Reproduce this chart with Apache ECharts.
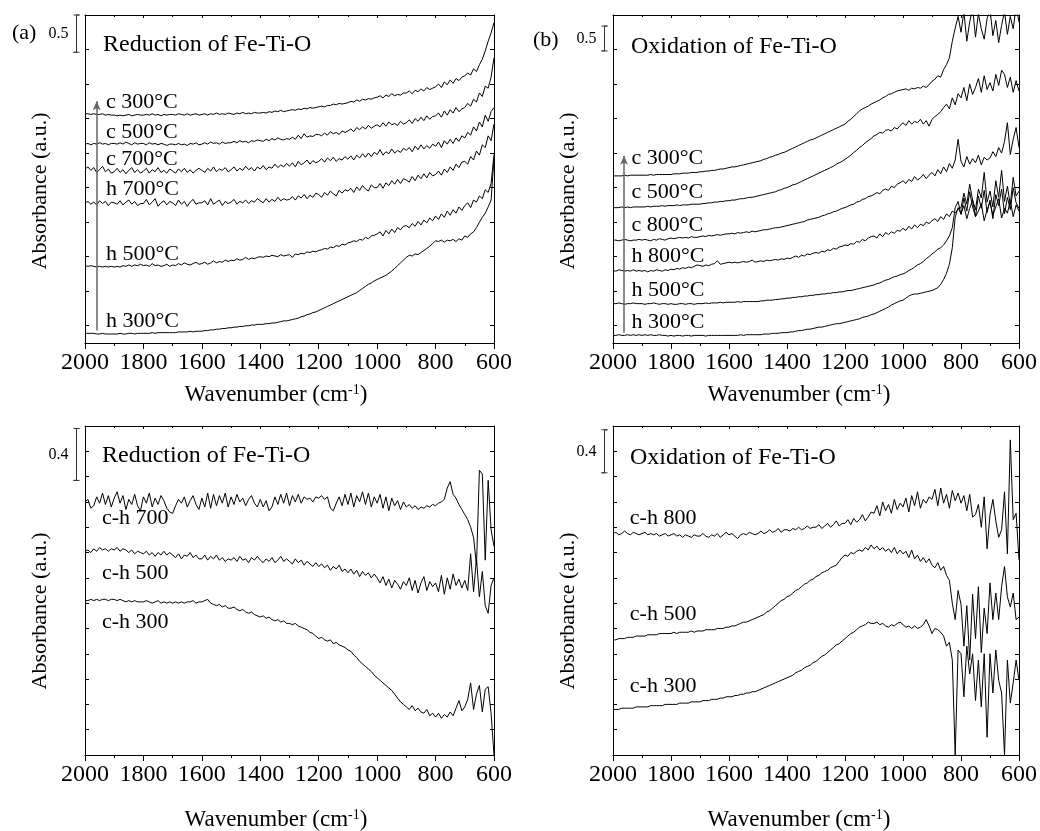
<!DOCTYPE html>
<html>
<head>
<meta charset="utf-8">
<script src="https://cdn.jsdelivr.net/npm/echarts@6/dist/echarts.min.js"></script>
<style>
  html, body { margin: 0; background: #fff; }
  #chart { width: 1040px; height: 831px; }
</style>
</head>
<body>
<div id="chart"></div>
<script>
// shared wavenumber grid (cm-1), 2000 -> 600
const wavenumber = [
  2000,1990,1980,1970,1960,1950,1940,1930,1920,1910,
  1900,1890,1880,1870,1860,1850,1840,1830,1820,1810,
  1800,1790,1780,1770,1760,1750,1740,1730,1720,1710,
  1700,1690,1680,1670,1660,1650,1640,1630,1620,1610,
  1600,1590,1580,1570,1560,1550,1540,1530,1520,1510,
  1500,1490,1480,1470,1460,1450,1440,1430,1420,1410,
  1400,1390,1380,1370,1360,1350,1340,1330,1320,1310,
  1300,1290,1280,1270,1260,1250,1240,1230,1220,1210,
  1200,1190,1180,1170,1160,1150,1140,1130,1120,1110,
  1100,1090,1080,1070,1060,1050,1040,1030,1020,1010,
  1000,990,980,970,960,950,940,930,920,910,
  900,890,880,870,860,850,840,830,820,810,
  800,790,780,770,760,750,740,730,720,710,
  700,690,680,670,660,650,640,630,620,610,
  600
]

// (a) reduction of Fe-Ti-O, stacked spectra
const redC300 = [
  3.07,3.07,3.06,3.07,3.06,3.06,3.07,3.05,3.06,3.05,
  3.05,3.04,3.05,3.04,3.05,3.06,3.04,3.05,3.06,3.05,
  3.05,3.06,3.05,3.07,3.05,3.06,3.04,3.06,3.05,3.06,
  3.06,3.05,3.07,3.06,3.05,3.07,3.05,3.06,3.07,3.05,
  3.06,3.07,3.05,3.07,3.06,3.08,3.06,3.07,3.06,3.08,
  3.07,3.06,3.08,3.07,3.09,3.07,3.08,3.07,3.09,3.08,
  3.08,3.09,3.08,3.10,3.09,3.11,3.10,3.12,3.10,3.11,
  3.12,3.13,3.12,3.14,3.13,3.15,3.14,3.16,3.15,3.16,
  3.17,3.18,3.17,3.19,3.19,3.21,3.20,3.22,3.21,3.22,
  3.23,3.25,3.24,3.27,3.25,3.28,3.27,3.29,3.28,3.30,
  3.31,3.33,3.30,3.34,3.32,3.36,3.33,3.35,3.34,3.37,
  3.37,3.40,3.36,3.41,3.39,3.43,3.40,3.45,3.42,3.44,
  3.46,3.50,3.45,3.53,3.49,3.56,3.51,3.58,3.55,3.60,
  3.62,3.66,3.63,3.72,3.68,3.78,3.86,3.98,4.12,4.24,
  4.39
]
const redC500 = [
  2.63,2.64,2.62,2.64,2.63,2.65,2.63,2.64,2.62,2.64,
  2.64,2.63,2.65,2.63,2.66,2.64,2.62,2.65,2.63,2.64,
  2.64,2.62,2.65,2.63,2.64,2.62,2.64,2.63,2.61,2.63,
  2.63,2.62,2.64,2.62,2.63,2.61,2.64,2.63,2.65,2.62,
  2.63,2.65,2.63,2.66,2.64,2.65,2.63,2.66,2.64,2.65,
  2.65,2.67,2.65,2.68,2.66,2.67,2.65,2.68,2.67,2.69,
  2.68,2.67,2.70,2.68,2.71,2.69,2.72,2.70,2.69,2.71,
  2.70,2.73,2.70,2.76,2.71,2.78,2.73,2.75,2.74,2.77,
  2.77,2.75,2.79,2.76,2.81,2.78,2.80,2.77,2.82,2.80,
  2.82,2.85,2.81,2.87,2.84,2.88,2.85,2.90,2.86,2.89,
  2.91,2.88,2.94,2.89,2.95,2.91,2.93,2.90,2.96,2.92,
  2.94,2.98,2.93,3.00,2.96,3.02,2.97,3.04,2.99,3.03,
  3.04,3.08,3.02,3.11,3.05,3.13,3.08,3.16,3.10,3.14,
  3.16,3.22,3.18,3.28,3.24,3.37,3.32,3.47,3.44,3.60,
  3.88
]
const redC700 = [
  2.27,2.30,2.25,2.29,2.22,2.26,2.31,2.23,2.27,2.21,
  2.23,2.28,2.22,2.26,2.20,2.25,2.29,2.22,2.26,2.21,
  2.24,2.28,2.21,2.26,2.23,2.29,2.22,2.25,2.21,2.27,
  2.24,2.21,2.27,2.23,2.28,2.22,2.26,2.21,2.25,2.28,
  2.25,2.22,2.28,2.24,2.30,2.23,2.27,2.25,2.29,2.23,
  2.26,2.30,2.24,2.28,2.25,2.31,2.26,2.29,2.24,2.30,
  2.27,2.32,2.26,2.30,2.28,2.34,2.29,2.33,2.30,2.35,
  2.31,2.36,2.30,2.38,2.33,2.36,2.40,2.34,2.39,2.36,
  2.38,2.42,2.37,2.43,2.39,2.44,2.38,2.42,2.40,2.45,
  2.41,2.46,2.40,2.47,2.43,2.49,2.44,2.50,2.45,2.51,
  2.48,2.55,2.47,2.52,2.49,2.56,2.50,2.54,2.51,2.57,
  2.54,2.58,2.52,2.60,2.55,2.62,2.56,2.61,2.57,2.63,
  2.60,2.66,2.58,2.68,2.63,2.70,2.64,2.72,2.67,2.75,
  2.72,2.80,2.76,2.88,2.82,2.95,2.88,3.05,2.96,3.10,
  3.16
]
const redH700 = [
  1.78,1.80,1.76,1.79,1.75,1.81,1.77,1.80,1.74,1.79,
  1.78,1.76,1.81,1.75,1.79,1.82,1.76,1.80,1.74,1.77,
  1.77,1.83,1.75,1.79,1.84,1.73,1.78,1.81,1.75,1.80,
  1.78,1.74,1.82,1.76,1.80,1.73,1.79,1.83,1.76,1.78,
  1.78,1.81,1.75,1.84,1.76,1.79,1.82,1.74,1.80,1.77,
  1.79,1.83,1.76,1.80,1.78,1.82,1.77,1.81,1.79,1.84,
  1.81,1.78,1.84,1.79,1.83,1.80,1.86,1.81,1.84,1.82,
  1.83,1.87,1.82,1.88,1.85,1.90,1.84,1.89,1.86,1.92,
  1.90,1.86,1.93,1.89,1.95,1.91,1.88,1.96,1.92,1.97,
  1.95,1.99,1.93,2.01,1.96,2.03,1.98,1.95,2.04,2.00,
  2.00,2.06,1.99,2.07,2.03,2.10,2.05,2.12,2.06,2.13,
  2.11,2.08,2.16,2.10,2.18,2.13,2.20,2.14,2.22,2.17,
  2.19,2.24,2.18,2.27,2.22,2.30,2.25,2.34,2.29,2.37,
  2.38,2.34,2.45,2.40,2.53,2.47,2.62,2.58,2.75,2.68,
  2.92
]
const redH500 = [
  0.87,0.86,0.87,0.86,0.85,0.86,0.85,0.86,0.85,0.86,
  0.85,0.86,0.85,0.87,0.86,0.88,0.86,0.88,0.87,0.89,
  0.87,0.88,0.86,0.90,0.87,0.88,0.86,0.87,0.89,0.86,
  0.88,0.87,0.90,0.88,0.91,0.89,0.88,0.90,0.92,0.89,
  0.90,0.92,0.89,0.91,0.94,0.91,0.93,0.92,0.95,0.93,
  0.95,0.94,0.97,0.95,0.96,0.99,0.96,0.98,0.97,0.99,
  1.00,0.99,1.01,1.00,1.02,1.01,1.00,1.03,1.01,1.02,
  1.03,0.99,1.04,1.03,1.05,1.04,1.07,1.06,1.08,1.07,
  1.09,1.10,1.12,1.11,1.14,1.13,1.16,1.15,1.18,1.17,
  1.20,1.21,1.23,1.22,1.25,1.24,1.28,1.26,1.30,1.31,
  1.33,1.36,1.30,1.38,1.33,1.40,1.35,1.42,1.39,1.44,
  1.45,1.42,1.48,1.44,1.51,1.46,1.53,1.49,1.56,1.52,
  1.59,1.54,1.62,1.57,1.66,1.60,1.68,1.63,1.72,1.67,
  1.74,1.78,1.71,1.82,1.79,1.88,1.84,1.97,1.93,2.06,
  2.48
]
const redH300 = [
  -0.11,-0.11,-0.11,-0.11,-0.12,-0.12,-0.11,-0.12,-0.12,-0.12,
  -0.12,-0.12,-0.11,-0.12,-0.12,-0.11,-0.11,-0.12,-0.11,-0.11,
  -0.11,-0.11,-0.11,-0.10,-0.11,-0.10,-0.10,-0.10,-0.10,-0.10,
  -0.10,-0.10,-0.09,-0.09,-0.09,-0.09,-0.08,-0.09,-0.08,-0.08,
  -0.08,-0.07,-0.07,-0.06,-0.06,-0.05,-0.05,-0.04,-0.04,-0.03,
  -0.03,-0.02,-0.02,-0.01,-0.01,0.00,0.00,0.01,0.01,0.02,
  0.02,0.02,0.03,0.03,0.04,0.04,0.05,0.06,0.07,0.07,
  0.08,0.09,0.10,0.11,0.13,0.14,0.16,0.17,0.19,0.20,
  0.22,0.24,0.26,0.28,0.30,0.32,0.34,0.36,0.38,0.40,
  0.42,0.44,0.46,0.48,0.51,0.54,0.57,0.60,0.62,0.65,
  0.67,0.69,0.71,0.73,0.76,0.79,0.83,0.87,0.91,0.95,
  0.99,1.02,1.01,1.04,1.03,1.06,1.09,1.12,1.15,1.19,
  1.23,1.22,1.24,1.21,1.24,1.23,1.25,1.22,1.26,1.24,
  1.30,1.28,1.33,1.36,1.42,1.50,1.57,1.63,1.72,1.82,
  2.43
]

// (b) oxidation of Fe-Ti-O, stacked spectra
const oxC300 = [
  2.17,2.17,2.17,2.17,2.18,2.17,2.18,2.18,2.18,2.18,
  2.18,2.18,2.18,2.19,2.18,2.19,2.19,2.19,2.19,2.19,
  2.19,2.20,2.20,2.20,2.21,2.21,2.21,2.22,2.22,2.22,
  2.23,2.23,2.24,2.24,2.25,2.25,2.26,2.27,2.27,2.28,
  2.29,2.30,2.30,2.31,2.32,2.33,2.34,2.35,2.36,2.37,
  2.38,2.39,2.41,2.42,2.44,2.45,2.47,2.48,2.50,2.51,
  2.53,2.55,2.57,2.59,2.61,2.63,2.65,2.67,2.69,2.70,
  2.72,2.74,2.76,2.78,2.80,2.82,2.84,2.86,2.88,2.90,
  2.92,2.96,2.99,3.03,3.07,3.11,3.14,3.16,3.18,3.21,
  3.23,3.25,3.27,3.30,3.32,3.35,3.36,3.38,3.40,3.41,
  3.42,3.43,3.41,3.44,3.43,3.45,3.44,3.47,3.45,3.49,
  3.54,3.57,3.62,3.60,3.71,3.78,3.88,4.12,4.31,4.48,
  4.25,4.55,4.12,4.40,4.60,4.18,4.52,4.30,4.15,4.45,
  4.58,4.20,4.42,4.10,4.35,4.55,4.22,4.48,4.30,4.62,
  4.40
]
const oxC500 = [
  1.71,1.71,1.71,1.72,1.71,1.72,1.71,1.72,1.72,1.72,
  1.72,1.72,1.73,1.72,1.73,1.73,1.73,1.74,1.73,1.74,
  1.74,1.74,1.75,1.74,1.75,1.75,1.75,1.76,1.76,1.76,
  1.76,1.77,1.77,1.78,1.78,1.79,1.79,1.80,1.80,1.81,
  1.81,1.82,1.82,1.83,1.84,1.84,1.85,1.86,1.86,1.87,
  1.88,1.89,1.90,1.91,1.92,1.93,1.94,1.96,1.97,1.99,
  2.00,2.02,2.04,2.05,2.07,2.09,2.11,2.13,2.15,2.17,
  2.19,2.21,2.23,2.25,2.27,2.29,2.31,2.34,2.36,2.38,
  2.41,2.44,2.47,2.51,2.54,2.58,2.61,2.65,2.68,2.71,
  2.75,2.77,2.80,2.79,2.83,2.84,2.82,2.87,2.85,2.90,
  2.94,2.90,2.97,2.92,2.96,2.94,2.99,2.92,2.97,2.89,
  2.99,3.03,3.06,3.10,3.16,3.21,3.14,3.30,3.20,3.36,
  3.30,3.45,3.26,3.50,3.35,3.45,3.58,3.38,3.62,3.42,
  3.52,3.40,3.64,3.48,3.70,3.64,3.45,3.60,3.38,3.55,
  3.40
]
const oxC800 = [
  1.24,1.24,1.23,1.24,1.25,1.24,1.23,1.24,1.24,1.25,
  1.24,1.25,1.24,1.23,1.25,1.24,1.26,1.25,1.24,1.26,
  1.27,1.26,1.27,1.28,1.27,1.28,1.27,1.29,1.28,1.28,
  1.29,1.30,1.29,1.31,1.30,1.31,1.32,1.31,1.32,1.33,
  1.33,1.34,1.33,1.35,1.34,1.35,1.36,1.35,1.37,1.36,
  1.37,1.38,1.39,1.39,1.40,1.41,1.42,1.42,1.43,1.44,
  1.45,1.46,1.47,1.48,1.49,1.50,1.51,1.53,1.54,1.55,
  1.56,1.57,1.59,1.60,1.62,1.63,1.65,1.66,1.68,1.70,
  1.71,1.73,1.75,1.76,1.79,1.80,1.83,1.84,1.87,1.88,
  1.90,1.93,1.91,1.96,1.98,1.96,2.02,2.00,2.05,2.07,
  2.10,2.06,2.12,2.09,2.16,2.11,2.14,2.19,2.13,2.18,
  2.22,2.17,2.26,2.20,2.30,2.23,2.35,2.28,2.40,2.70,
  2.38,2.30,2.45,2.34,2.42,2.36,2.47,2.33,2.44,2.40,
  2.43,2.52,2.45,2.58,2.50,2.67,2.94,2.48,2.70,2.87,
  2.58
]
const oxH800 = [
  0.80,0.79,0.81,0.80,0.79,0.80,0.79,0.81,0.79,0.80,
  0.79,0.80,0.78,0.80,0.79,0.81,0.80,0.79,0.81,0.80,
  0.82,0.81,0.83,0.82,0.84,0.83,0.85,0.84,0.86,0.88,
  0.87,0.86,0.88,0.87,0.89,0.90,0.94,0.89,0.90,0.91,
  0.92,0.91,0.92,0.91,0.92,0.93,0.92,0.93,0.95,0.92,
  0.93,0.94,0.93,0.95,0.94,0.95,0.96,0.95,0.97,0.96,
  0.98,0.97,0.99,1.01,0.99,1.02,1.01,1.04,1.03,1.05,
  1.06,1.05,1.08,1.07,1.10,1.09,1.12,1.11,1.14,1.15,
  1.17,1.16,1.19,1.18,1.22,1.21,1.25,1.23,1.27,1.29,
  1.30,1.27,1.33,1.29,1.35,1.32,1.36,1.34,1.38,1.37,
  1.41,1.38,1.44,1.40,1.46,1.42,1.47,1.45,1.50,1.48,
  1.52,1.55,1.51,1.58,1.54,1.62,1.58,1.66,1.63,1.69,
  1.71,1.92,1.76,2.05,1.82,1.68,1.98,1.85,2.22,1.79,
  1.95,1.72,2.10,1.86,2.25,1.80,2.02,1.75,2.15,1.88,
  1.95
]
const oxH500 = [
  0.32,0.32,0.33,0.32,0.31,0.32,0.32,0.33,0.32,0.32,
  0.32,0.31,0.32,0.32,0.33,0.32,0.31,0.32,0.32,0.31,
  0.32,0.31,0.31,0.32,0.32,0.31,0.32,0.32,0.31,0.32,
  0.32,0.32,0.33,0.32,0.33,0.33,0.33,0.34,0.33,0.34,
  0.34,0.34,0.34,0.35,0.34,0.35,0.35,0.35,0.35,0.35,
  0.35,0.36,0.36,0.37,0.37,0.37,0.38,0.38,0.39,0.39,
  0.40,0.40,0.41,0.41,0.42,0.42,0.43,0.43,0.44,0.44,
  0.45,0.45,0.46,0.46,0.47,0.47,0.48,0.48,0.49,0.49,
  0.50,0.51,0.51,0.52,0.53,0.54,0.55,0.56,0.57,0.58,
  0.59,0.61,0.62,0.64,0.66,0.67,0.69,0.71,0.72,0.74,
  0.75,0.77,0.80,0.82,0.85,0.88,0.90,0.93,0.97,1.00,
  1.04,1.07,1.11,1.13,1.17,1.23,1.30,1.42,1.71,1.80,
  1.61,1.85,1.66,1.94,1.72,1.58,1.88,1.70,1.96,1.64,
  1.82,1.55,1.90,1.74,1.98,1.62,1.86,1.68,2.00,1.78,
  1.70
]
const oxH300 = [
  -0.14,-0.14,-0.13,-0.14,-0.14,-0.13,-0.14,-0.13,-0.14,-0.13,
  -0.14,-0.13,-0.14,-0.13,-0.14,-0.14,-0.13,-0.14,-0.14,-0.15,
  -0.14,-0.15,-0.14,-0.14,-0.15,-0.14,-0.14,-0.15,-0.14,-0.14,
  -0.14,-0.14,-0.15,-0.14,-0.14,-0.14,-0.14,-0.14,-0.14,-0.14,
  -0.14,-0.14,-0.14,-0.14,-0.13,-0.14,-0.13,-0.13,-0.13,-0.13,
  -0.13,-0.13,-0.12,-0.12,-0.12,-0.11,-0.11,-0.11,-0.10,-0.10,
  -0.10,-0.09,-0.09,-0.08,-0.07,-0.07,-0.06,-0.05,-0.05,-0.04,
  -0.03,-0.02,-0.02,-0.01,0.00,0.01,0.02,0.03,0.03,0.04,
  0.05,0.06,0.07,0.08,0.09,0.10,0.12,0.13,0.14,0.16,
  0.17,0.19,0.21,0.23,0.25,0.27,0.30,0.32,0.34,0.36,
  0.37,0.40,0.43,0.45,0.46,0.46,0.47,0.48,0.49,0.50,
  0.51,0.53,0.55,0.60,0.67,0.76,0.89,1.13,1.57,1.71,
  1.62,1.74,1.55,1.70,1.82,1.58,1.66,1.77,1.52,1.68,
  1.79,1.60,1.72,1.84,1.56,1.70,1.63,1.81,1.58,1.75,
  1.66
]

// (c) reduction, difference spectra (cooling - heating)
const redDiff700 = [
  2.00,2.02,1.95,1.97,2.04,1.99,2.07,1.98,2.05,1.96,
  2.03,2.08,1.99,2.05,1.94,2.02,1.98,2.06,1.97,1.93,
  2.04,1.99,2.07,1.96,2.03,1.98,2.05,2.01,1.95,1.92,
  1.91,1.97,2.02,1.99,2.04,1.96,2.01,2.05,1.98,1.94,
  2.03,1.96,2.07,1.95,2.06,1.97,2.05,1.99,2.07,1.96,
  2.04,1.98,2.06,2.00,2.03,1.97,2.02,2.05,1.99,1.96,
  2.02,1.96,2.01,1.93,1.96,2.04,1.98,2.06,1.99,2.07,
  1.97,2.05,2.00,2.06,1.99,2.04,2.02,2.03,2.00,2.04,
  2.03,2.05,2.02,2.04,1.95,1.93,1.99,2.04,1.97,2.06,
  1.98,2.07,1.96,2.05,2.00,2.08,1.98,2.07,1.96,2.04,
  1.99,2.06,1.95,2.04,1.93,2.03,1.97,2.01,1.94,2.00,
  1.96,1.98,1.95,1.97,1.94,1.96,1.95,1.97,1.96,1.98,
  1.97,1.99,2.00,2.02,2.11,2.16,2.06,2.03,1.98,1.94,
  1.90,1.86,1.80,1.72,1.50,2.25,2.22,1.54,2.17,1.78,
  1.65
]
const redDiff500 = [
  1.61,1.62,1.60,1.63,1.61,1.64,1.62,1.63,1.61,1.63,
  1.62,1.64,1.61,1.63,1.62,1.60,1.62,1.59,1.61,1.60,
  1.59,1.61,1.58,1.60,1.57,1.60,1.58,1.61,1.58,1.60,
  1.58,1.56,1.59,1.55,1.58,1.57,1.60,1.56,1.58,1.55,
  1.55,1.58,1.54,1.57,1.55,1.58,1.54,1.56,1.53,1.55,
  1.54,1.56,1.53,1.57,1.54,1.55,1.52,1.56,1.54,1.57,
  1.54,1.52,1.55,1.53,1.56,1.52,1.54,1.57,1.53,1.55,
  1.53,1.51,1.55,1.52,1.54,1.50,1.53,1.51,1.49,1.52,
  1.49,1.51,1.48,1.50,1.46,1.49,1.47,1.50,1.45,1.47,
  1.44,1.47,1.43,1.46,1.41,1.45,1.42,1.44,1.40,1.43,
  1.40,1.36,1.41,1.34,1.39,1.32,1.38,1.35,1.31,1.37,
  1.34,1.40,1.30,1.38,1.28,1.36,1.41,1.30,1.37,1.33,
  1.36,1.29,1.42,1.27,1.40,1.31,1.43,1.34,1.39,1.32,
  1.38,1.30,1.59,1.29,1.55,1.25,1.45,1.18,1.12,1.34,
  1.40
]
const redDiff300 = [
  1.22,1.22,1.23,1.22,1.23,1.22,1.23,1.23,1.22,1.23,
  1.23,1.22,1.23,1.22,1.21,1.22,1.21,1.22,1.21,1.21,
  1.21,1.22,1.21,1.20,1.21,1.22,1.20,1.21,1.20,1.21,
  1.20,1.21,1.20,1.21,1.20,1.21,1.21,1.22,1.20,1.21,
  1.21,1.22,1.23,1.20,1.19,1.18,1.19,1.17,1.18,1.16,
  1.16,1.17,1.15,1.14,1.15,1.13,1.12,1.13,1.11,1.10,
  1.09,1.10,1.08,1.09,1.07,1.06,1.07,1.05,1.06,1.04,
  1.04,1.03,1.04,1.02,1.01,1.00,0.99,0.97,0.96,0.94,
  0.92,0.93,0.91,0.90,0.91,0.88,0.89,0.87,0.86,0.85,
  0.83,0.82,0.79,0.77,0.74,0.72,0.70,0.68,0.66,0.63,
  0.61,0.59,0.57,0.55,0.53,0.51,0.48,0.45,0.42,0.40,
  0.38,0.36,0.39,0.35,0.37,0.34,0.33,0.36,0.31,0.33,
  0.30,0.33,0.29,0.32,0.30,0.34,0.31,0.37,0.43,0.35,
  0.38,0.44,0.57,0.36,0.48,0.55,0.34,0.52,0.54,0.33,
  0.00
]

// (d) oxidation, difference spectra (cooling - heating)
const oxDiff800 = [
  1.75,1.76,1.74,1.75,1.77,1.75,1.74,1.76,1.75,1.74,
  1.75,1.76,1.74,1.75,1.74,1.75,1.73,1.74,1.75,1.73,
  1.74,1.75,1.73,1.74,1.72,1.74,1.73,1.72,1.74,1.73,
  1.73,1.75,1.73,1.72,1.74,1.73,1.75,1.72,1.74,1.76,
  1.74,1.75,1.73,1.71,1.74,1.75,1.74,1.76,1.75,1.74,
  1.75,1.77,1.75,1.76,1.78,1.76,1.77,1.79,1.76,1.78,
  1.78,1.77,1.79,1.78,1.80,1.78,1.79,1.81,1.79,1.80,
  1.80,1.82,1.79,1.81,1.83,1.80,1.82,1.85,1.81,1.83,
  1.83,1.86,1.82,1.87,1.84,1.86,1.90,1.85,1.88,1.92,
  1.91,1.97,1.89,2.00,1.93,1.98,1.91,2.02,1.94,1.99,
  1.96,2.03,1.92,2.05,1.97,2.08,1.95,2.02,1.99,2.04,
  2.02,2.10,1.97,2.11,1.99,2.06,1.95,2.09,2.01,2.07,
  1.99,2.05,1.93,2.06,1.88,1.90,1.98,1.80,2.04,1.63,
  1.90,2.02,1.85,1.72,1.78,2.08,1.59,2.49,1.86,1.91,
  1.54
]
const oxDiff500 = [
  0.91,0.91,0.92,0.92,0.92,0.93,0.93,0.93,0.94,0.94,
  0.94,0.94,0.95,0.95,0.95,0.95,0.96,0.96,0.96,0.96,
  0.96,0.97,0.96,0.97,0.97,0.97,0.97,0.98,0.97,0.98,
  0.98,0.98,0.99,0.99,0.99,0.99,1.00,1.00,1.00,1.01,
  1.01,1.02,1.02,1.03,1.04,1.05,1.05,1.06,1.07,1.08,
  1.09,1.10,1.11,1.13,1.14,1.16,1.18,1.20,1.22,1.23,
  1.25,1.26,1.28,1.30,1.31,1.33,1.35,1.36,1.38,1.39,
  1.41,1.42,1.44,1.45,1.46,1.48,1.49,1.50,1.53,1.56,
  1.58,1.57,1.60,1.59,1.61,1.62,1.61,1.64,1.62,1.66,
  1.63,1.65,1.62,1.64,1.61,1.63,1.60,1.64,1.59,1.62,
  1.59,1.61,1.56,1.62,1.55,1.58,1.53,1.56,1.52,1.55,
  1.50,1.48,1.52,1.46,1.49,1.42,1.38,1.20,1.07,1.30,
  1.19,0.86,1.18,0.75,1.27,0.92,1.33,0.81,1.16,0.96,
  1.36,1.07,1.28,1.07,1.33,1.49,1.25,1.17,1.28,1.07,
  1.09
]
const oxDiff300 = [
  0.36,0.36,0.36,0.37,0.37,0.37,0.37,0.37,0.38,0.38,
  0.38,0.38,0.38,0.39,0.39,0.39,0.39,0.39,0.40,0.40,
  0.40,0.40,0.40,0.41,0.41,0.41,0.41,0.42,0.42,0.42,
  0.42,0.43,0.43,0.43,0.44,0.44,0.44,0.45,0.45,0.46,
  0.46,0.46,0.47,0.47,0.48,0.48,0.49,0.49,0.50,0.50,
  0.51,0.52,0.53,0.54,0.55,0.56,0.57,0.58,0.59,0.60,
  0.61,0.62,0.63,0.65,0.66,0.67,0.69,0.70,0.71,0.73,
  0.74,0.76,0.78,0.79,0.81,0.83,0.85,0.87,0.88,0.90,
  0.92,0.94,0.96,0.97,0.99,1.01,1.02,1.03,1.05,1.04,
  1.04,1.05,1.03,1.04,1.02,1.01,1.03,1.02,1.04,1.05,
  1.03,1.01,1.02,1.00,1.02,1.00,1.01,1.03,1.07,1.02,
  0.96,1.00,0.99,0.97,0.94,0.86,0.89,0.75,0.00,0.83,
  0.80,0.46,0.86,0.64,0.80,0.43,0.75,0.38,0.80,0.14,
  0.80,0.49,0.83,0.59,0.49,0.00,0.75,0.41,0.57,0.75,
  0.59
]

const labelsRedStack = ['c 300°C', 'c 500°C', 'c 700°C', 'h 700°C', 'h 500°C', 'h 300°C']
const labelsOxStack = ['c 300°C', 'c 500°C', 'c 800°C', 'h 800°C', 'h 500°C', 'h 300°C']
const labelsRedDiff = ['c-h 700', 'c-h 500', 'c-h 300']
const labelsOxDiff = ['c-h 800', 'c-h 500', 'c-h 300']

const FONT = '"Liberation Serif", "Times New Roman", serif'

// one entry per panel: curves, label placement, scale bar
const panels = [
  {
    grid: { left: 85, top: 15, width: 409, height: 328 },
    yMin: -0.25, yMax: 4.5, yTicks: [0, 0.5, 1, 1.5, 2, 2.5, 3, 3.5, 4, 4.5],
    curves: [redC300, redC500, redC700, redH700, redH500, redH300],
    labels: labelsRedStack, labelX: 1928, labelY: [3.24, 2.80, 2.41, 1.98, 1.04, 0.07],
    arrow: { x: 1960, from: -0.07, to: 3.25 },
    title: 'Reduction of Fe-Ti-O', titlePos: [103, 33],
    tag: '(a)', tagPos: [12, 22],
    scale: '0.5', bar: [3.96, 4.5],
    yTitle: [40, 191], xTitle: [276, 395],
  },
  {
    grid: { left: 613, top: 15, width: 409, height: 328 },
    yMin: -0.25, yMax: 4.5, yTicks: [0, 0.5, 1, 1.5, 2, 2.5, 3, 3.5, 4, 4.5],
    curves: [oxC300, oxC500, oxC800, oxH800, oxH500, oxH300],
    labels: labelsOxStack, labelX: 1936, labelY: [2.43, 1.94, 1.45, 1.01, 0.51, 0.05],
    arrow: { x: 1962, from: -0.10, to: 2.46 },
    title: 'Oxidation of Fe-Ti-O', titlePos: [631, 35],
    tag: '(b)', tagPos: [533, 29],
    scale: '0.5', bar: [3.98, 4.34],
    yTitle: [568, 191], xTitle: [799, 395],
  },
  {
    grid: { left: 85, top: 426, width: 409, height: 329 },
    yMin: 0, yMax: 2.6, yInterval: 0.2,
    curves: [redDiff700, redDiff500, redDiff300],
    labels: labelsRedDiff, labelX: 1942, labelY: [1.87, 1.44, 1.05],
    title: 'Reduction of Fe-Ti-O', titlePos: [102, 444],
    scale: '0.4', bar: [2.17, 2.58],
    yTitle: [40, 611], xTitle: [276, 820],
  },
  {
    grid: { left: 613, top: 426, width: 409, height: 329 },
    yMin: 0, yMax: 2.6, yInterval: 0.2,
    curves: [oxDiff800, oxDiff500, oxDiff300],
    labels: labelsOxDiff, labelX: 1942, labelY: [1.87, 1.11, 0.54],
    title: 'Oxidation of Fe-Ti-O', titlePos: [630, 446],
    scale: '0.4', bar: [2.23, 2.57],
    yTitle: [568, 611], xTitle: [799, 820],
  },
]

const black = { color: '#000', width: 1 }

function xAxes(i) {
  const base = {
    gridIndex: i, type: 'value', min: 600, max: 2000, interval: 200, inverse: true,
    splitLine: { show: false },
    axisLine: { onZero: false, lineStyle: black },
  }
  return [
    Object.assign({}, base, {
      position: 'bottom',
      axisTick: { length: 6, lineStyle: black },
      minorTick: { show: true, splitNumber: 2, length: 3, lineStyle: black },
      axisLabel: { color: '#000', fontSize: 24, fontFamily: FONT, margin: 8, formatter: v => String(v) },
    }),
    Object.assign({}, base, {
      position: 'top',
      axisTick: { inside: true, length: 3, lineStyle: black },
      minorTick: { show: true, splitNumber: 2, length: 2, lineStyle: black },
      axisLabel: { show: false },
    }),
  ]
}

function yAxes(i, p) {
  const tick = { inside: true, length: 4, lineStyle: black }
  if (p.yTicks) tick.customValues = p.yTicks
  const base = {
    gridIndex: i, type: 'value', min: p.yMin, max: p.yMax,
    splitLine: { show: false }, axisLabel: { show: false },
    axisLine: { show: true, onZero: false, lineStyle: black },
    axisTick: tick,
  }
  if (p.yInterval) base.interval = p.yInterval
  return [
    Object.assign({ position: 'left' }, base),
    Object.assign({ position: 'right' }, base),
  ]
}

const grid = []
const xAxis = []
const yAxis = []
const series = []
const title = []

panels.forEach((p, i) => {
  grid.push(p.grid)
  xAxis.push(...xAxes(i))
  yAxis.push(...yAxes(i, p))

  p.curves.forEach(vals => {
    series.push({
      type: 'line', xAxisIndex: 2 * i, yAxisIndex: 2 * i,
      data: wavenumber.map((w, k) => [w, vals[k]]),
      symbol: 'none', silent: true,
      lineStyle: { color: '#000', width: 1 },
    })
  })

  const labels = {
    type: 'scatter', xAxisIndex: 2 * i, yAxisIndex: 2 * i,
    symbolSize: 0, silent: true,
    itemStyle: { opacity: 1, color: '#000' },
    data: p.labels.map((t, k) => [p.labelX, p.labelY[k], t]),
    label: {
      show: true, position: 'right', distance: 0,
      formatter: d => d.data[2],
      color: '#000', fontSize: 22, fontFamily: FONT,
    },
  }
  if (p.arrow) {
    labels.markLine = {
      silent: true, symbol: ['none', 'arrow'], symbolSize: [6, 9],
      label: { show: false },
      lineStyle: { color: '#666', width: 1.5, type: 'solid', opacity: 1 },
      data: [[{ coord: [p.arrow.x, p.arrow.from] }, { coord: [p.arrow.x, p.arrow.to] }]],
    }
  }
  series.push(labels)

  title.push({
    text: p.title, left: p.titlePos[0], top: p.titlePos[1], padding: 0,
    textStyle: { fontFamily: FONT, fontSize: 24, fontWeight: 'normal', color: '#000' },
  })
  if (p.tag) {
    title.push({
      text: p.tag, left: p.tagPos[0], top: p.tagPos[1], padding: 0,
      textStyle: { fontFamily: FONT, fontSize: 22, fontWeight: 'normal', color: '#000' },
    })
  }
})

const chart = echarts.init(document.getElementById('chart'))
chart.setOption({ animation: false, backgroundColor: '#fff', title, grid, xAxis, yAxis, series })

// scale bars and axis titles, placed after layout so bars follow the y scale
const graphic = []
panels.forEach((p, i) => {
  const top = chart.convertToPixel({ gridIndex: i }, [2000, p.bar[1]])
  const bot = chart.convertToPixel({ gridIndex: i }, [2000, p.bar[0]])
  const x = Math.round(top[0]) - 9 + 0.5
  graphic.push({
    type: 'polyline', silent: true,
    shape: { points: [[x - 3, top[1]], [x + 3, top[1]], [x, top[1]], [x, bot[1]], [x - 3, bot[1]], [x + 3, bot[1]]] },
    style: { stroke: '#333', lineWidth: 1, fill: null },
  })
  graphic.push({
    type: 'text', silent: true, x: x - 8, y: (top[1] + bot[1]) / 2,
    style: { text: p.scale, fill: '#000', fontSize: 16, fontFamily: FONT, align: 'right', verticalAlign: 'middle' },
  })
  graphic.push({
    type: 'text', silent: true, x: p.yTitle[0], y: p.yTitle[1], rotation: Math.PI / 2,
    style: { text: 'Absorbance (a.u.)', fill: '#000', fontSize: 22, fontFamily: FONT, align: 'center', verticalAlign: 'middle' },
  })
  graphic.push({
    type: 'text', silent: true, x: p.xTitle[0], y: p.xTitle[1],
    style: {
      text: 'Wavenumber (cm{sup|-1})', fill: '#000', fontSize: 23, fontFamily: FONT,
      align: 'center', verticalAlign: 'middle',
      rich: { sup: { fontSize: 14, fontFamily: FONT, fill: '#000', verticalAlign: 'top' } },
    },
  })
})
chart.setOption({ graphic })
</script>
</body>
</html>
